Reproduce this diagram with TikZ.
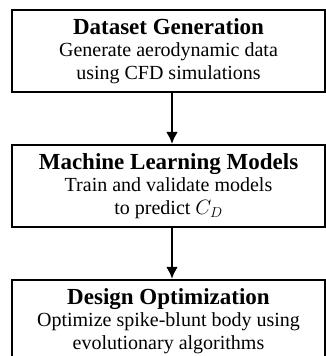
\documentclass[tikz,border=0pt]{standalone}
\usepackage{fontspec}
\setmainfont{Liberation Serif}
\usetikzlibrary{positioning, arrows.meta}
\newcommand{\stagetitle}[1]{{\fontsize{23}{22.5}\selectfont\bfseries #1}}
\begin{document}
\begin{tikzpicture}[x=1pt, y=1pt,
	stagebox/.style={draw, line width=1.9pt, minimum width=313pt, minimum height=82pt, align=center, inner sep=0pt, font=\fontsize{20}{22.5}\selectfont},
	flow/.style={line width=2.8pt, -{Latex[length=12pt, width=12pt]}}]
	\useasboundingbox (0,0) rectangle (326,-356);
	
	% Dataset generation
	\node[stagebox] (data) at (168.5,-51) {\stagetitle{Dataset Generation}\\Generate aerodynamic data\\using CFD simulations};
	
	% Machine learning
	\node[stagebox, below=51pt of data] (ml) {\stagetitle{Machine Learning Models}\\Train and validate models\\to predict $C_D$};
	
	% Optimization
	\node[stagebox, below=51pt of ml] (opt) {\stagetitle{Design Optimization}\\Optimize spike-blunt body using\\evolutionary algorithms};
	
	% arrows
	\draw[flow] ([xshift=3.5pt]data.south) -- ([xshift=3.5pt]ml.north);
	\draw[flow] ([xshift=3.5pt]ml.south) -- ([xshift=3.5pt]opt.north);
\end{tikzpicture}
\end{document}
